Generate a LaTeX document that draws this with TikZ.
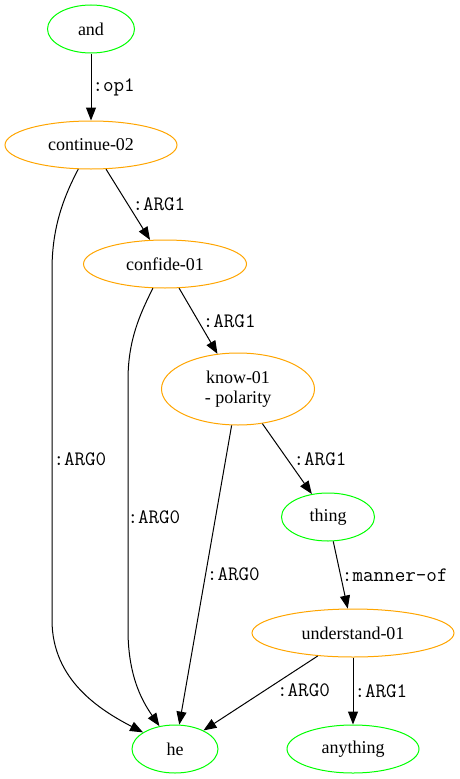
\documentclass[tikz,border=0pt]{standalone}
\usepackage{fontspec}
\setmainfont{Liberation Serif}
\usetikzlibrary{shapes.geometric, arrows.meta}
\definecolor{amrgreen}{RGB}{0,255,0}
\definecolor{amrorange}{RGB}{255,165,0}

\begin{document}
\begin{tikzpicture}[x=1pt, y=-1pt, every node/.style={ellipse,
                draw, line width=1pt,
                inner sep=0pt, minimum height=48pt,
                font=\fontsize{18}{20}\selectfont},
            const/.style={draw=amrgreen},
            frame/.style={draw=amrorange},
            lbl/.style={rectangle, draw=none, minimum height=0pt, minimum width=0pt,
                inner sep=1pt, anchor=west, font=\ttfamily\fontsize{20.5}{22}\selectfont},
            edge/.style={line width=1pt, -{Triangle[length=13pt, width=10pt]}}]
            \useasboundingbox (0,0) rectangle (460,779);

            \node[const, minimum width=87pt] (and) at (91, 29) {and};
            \node[frame, minimum width=172pt] (cont) at (91, 145) {continue-02};
            \node[frame, minimum width=163pt] (conf) at (165, 264) {confide-01};
            \node[frame, minimum width=153pt, minimum height=72pt, align=center] (know) at (238, 389) {know-01\\- polarity};
            \node[const, minimum width=93pt] (thing) at (328, 517) {thing};
            \node[frame, minimum width=202pt] (und) at (353, 633) {understand-01};
            \node[const, minimum width=86pt] (he) at (175, 749) {he};
            \node[const, minimum width=132pt] (any) at (353, 749) {anything};

            \foreach \i/\j/\l/\d/\h in {and/cont/:op1/0/0, cont/conf/:ARG1/3/0, conf/know/:ARG1/3/0,
                    know/thing/:ARG1/5/0, know/he/:ARG0/0/1, thing/und/:manner-of/0/0,
                    und/he/:ARG0/15/3, und/any/:ARG1/0/0} {
                    \draw[edge] (\i) -- node[lbl, xshift=\d pt, yshift=\h pt] {\l} (\j);
                }

            \draw[edge] (cont) .. controls (62, 200) and (52, 230) .. (52, 270)
                -- node[lbl, pos=0.54] {:ARG0} (52, 620)
                .. controls (52, 680) and (100, 710) .. (he);
            \draw[edge] (conf) .. controls (140, 314) and (128, 340) .. (128, 380)
                -- node[lbl, pos=0.55, xshift=-2pt] {:ARG0} (128, 630)
                .. controls (128, 680) and (145, 705) .. (he);
        \end{tikzpicture}
\end{document}
